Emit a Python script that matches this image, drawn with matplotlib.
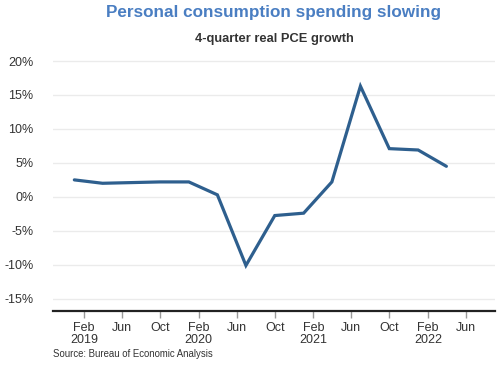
import matplotlib
matplotlib.use("Agg")
import matplotlib.pyplot as plt
import matplotlib.dates as mdates
import numpy as np
import datetime as dt

dates = ["2019-01-01", "2019-04-01", "2019-07-01", "2019-10-01",
         "2020-01-01", "2020-04-01", "2020-07-01", "2020-10-01",
         "2021-01-01", "2021-04-01", "2021-07-01", "2021-10-01",
         "2022-01-01", "2022-04-01"]
pce_growth = [2.5, 2.0, 2.1, 2.2, 2.2, 0.3, -10.1, -2.75, -2.4, 2.2, 16.3, 7.1, 6.9, 4.5]
y_ticks = [-15, -10, -5, 0, 5, 10, 15, 20]
tick_months = ["2019-02-01", "2019-06-01", "2019-10-01", "2020-02-01", "2020-06-01",
               "2020-10-01", "2021-02-01", "2021-06-01", "2021-10-01", "2022-02-01",
               "2022-06-01"]

plt.rcParams['font.family'] = ['Liberation Sans', 'DejaVu Sans']

x = [dt.datetime.strptime(d, "%Y-%m-%d") for d in dates]
tx = [dt.datetime.strptime(d, "%Y-%m-%d") for d in tick_months]

fig = plt.figure(figsize=(5, 3.65), dpi=100)
ax = fig.add_axes([0.106, 0.148, 0.884, 0.696])

ax.plot(x, pce_growth, color='#2e5f8e', lw=2.3, solid_capstyle='round', solid_joinstyle='miter', zorder=3)

ax.set_ylim(-16.8, 20.6)
ax.set_xlim(dt.datetime(2018, 10, 25), dt.datetime(2022, 9, 3))
ax.set_yticks(y_ticks)
ax.set_yticklabels([f"{v}%" for v in y_ticks])
ax.grid(axis='y', color='#ebebeb', lw=1)
ax.set_axisbelow(True)

ax.set_xticks(tx)
labels = []
for d in tx:
    m = d.strftime("%b")
    labels.append(f"{m}\n{d.year}" if d.month == 2 else m)
ax.set_xticklabels(labels, linespacing=1.0)

for s in ['top', 'right', 'left']:
    ax.spines[s].set_visible(False)
ax.spines['bottom'].set_color('#222222')
ax.spines['bottom'].set_linewidth(1.6)
ax.tick_params(axis='y', length=0, labelsize=9, colors='#333333', pad=14)
ax.tick_params(axis='x', length=5, width=1, color='#999999', labelsize=9, labelcolor='#333333', pad=3)
for lbl in ax.get_yticklabels():
    lbl.set_horizontalalignment('right')

fig.text(0.548, 0.965, "Personal consumption spending slowing", ha='center', va='center',
         fontsize=12.3, fontweight='bold', color='#4a7ec2')
fig.text(0.548, 0.893, "4-quarter real PCE growth", ha='center', va='center',
         fontsize=9.3, fontweight='bold', color='#333333')
fig.text(0.106, 0.03, "Source: Bureau of Economic Analysis", ha='left', va='center',
         fontsize=6.9, color='#333333')

fig.savefig("out.png", dpi=100)
